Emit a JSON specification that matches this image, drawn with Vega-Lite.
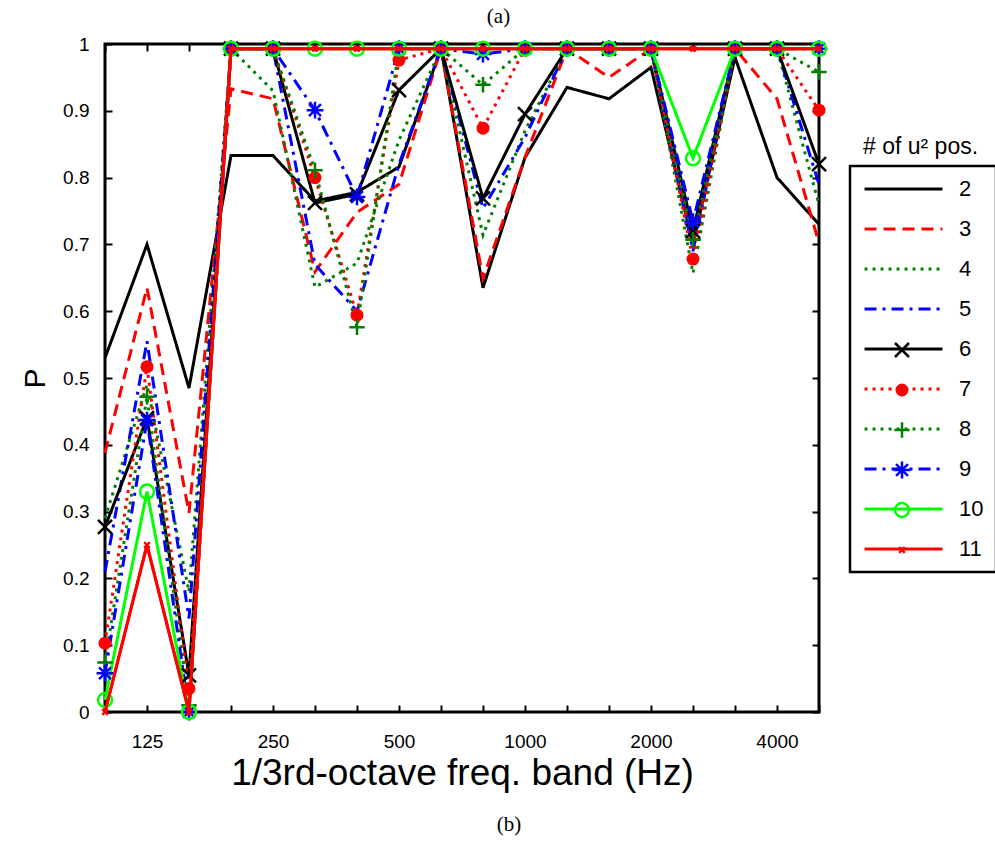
{
  "$schema": "https://vega.github.io/schema/vega-lite/v6.json",
  "width": 714,
  "height": 668,
  "padding": {"left": 20, "top": 5, "right": 2, "bottom": 4},
  "background": "white",
  "title": {"text": "(b)", "orient": "bottom", "anchor": "middle", "frame": "bounds", "font": "Liberation Serif", "fontSize": 21, "fontWeight": "normal", "color": "black", "offset": 23},
  "config": {
    "view": {"stroke": "black", "strokeWidth": 3},
    "axis": {"grid": false, "domain": false, "tickColor": "black", "tickWidth": 2, "labelColor": "black", "titleColor": "black", "labelFont": "Liberation Sans", "titleFont": "Liberation Sans", "titleFontWeight": "normal"}
  },
  "data": {"values": [
    {"f":"100","n":"2","P":0.53},{"f":"125","n":"2","P":0.70},{"f":"160","n":"2","P":0.485},{"f":"200","n":"2","P":0.833},{"f":"250","n":"2","P":0.833},{"f":"315","n":"2","P":0.765},{"f":"400","n":"2","P":0.778},{"f":"500","n":"2","P":0.816},{"f":"630","n":"2","P":0.993},{"f":"800","n":"2","P":0.635},{"f":"1000","n":"2","P":0.83},{"f":"1250","n":"2","P":0.935},{"f":"1600","n":"2","P":0.918},{"f":"2000","n":"2","P":0.965},{"f":"2500","n":"2","P":0.70},{"f":"3150","n":"2","P":0.98},{"f":"4000","n":"2","P":0.80},{"f":"5000","n":"2","P":0.73},
    {"f":"100","n":"3","P":0.388},{"f":"125","n":"3","P":0.635},{"f":"160","n":"3","P":0.298},{"f":"200","n":"3","P":0.933},{"f":"250","n":"3","P":0.918},{"f":"315","n":"3","P":0.659},{"f":"400","n":"3","P":0.748},{"f":"500","n":"3","P":0.79},{"f":"630","n":"3","P":0.993},{"f":"800","n":"3","P":0.649},{"f":"1000","n":"3","P":0.83},{"f":"1250","n":"3","P":0.993},{"f":"1600","n":"3","P":0.95},{"f":"2000","n":"3","P":0.993},{"f":"2500","n":"3","P":0.70},{"f":"3150","n":"3","P":0.993},{"f":"4000","n":"3","P":0.918},{"f":"5000","n":"3","P":0.702},
    {"f":"100","n":"4","P":0.29},{"f":"125","n":"4","P":0.49},{"f":"160","n":"4","P":0.18},{"f":"200","n":"4","P":0.993},{"f":"250","n":"4","P":0.93},{"f":"315","n":"4","P":0.636},{"f":"400","n":"4","P":0.672},{"f":"500","n":"4","P":0.856},{"f":"630","n":"4","P":0.993},{"f":"800","n":"4","P":0.714},{"f":"1000","n":"4","P":0.87},{"f":"1250","n":"4","P":0.993},{"f":"1600","n":"4","P":0.993},{"f":"2000","n":"4","P":0.993},{"f":"2500","n":"4","P":0.657},{"f":"3150","n":"4","P":0.993},{"f":"4000","n":"4","P":0.993},{"f":"5000","n":"4","P":0.759},
    {"f":"100","n":"5","P":0.21},{"f":"125","n":"5","P":0.555},{"f":"160","n":"5","P":0.14},{"f":"200","n":"5","P":0.993},{"f":"250","n":"5","P":0.993},{"f":"315","n":"5","P":0.67},{"f":"400","n":"5","P":0.60},{"f":"500","n":"5","P":0.82},{"f":"630","n":"5","P":0.993},{"f":"800","n":"5","P":0.754},{"f":"1000","n":"5","P":0.86},{"f":"1250","n":"5","P":0.993},{"f":"1600","n":"5","P":0.993},{"f":"2000","n":"5","P":0.993},{"f":"2500","n":"5","P":0.69},{"f":"3150","n":"5","P":0.993},{"f":"4000","n":"5","P":0.993},{"f":"5000","n":"5","P":0.79},
    {"f":"100","n":"6","P":0.277},{"f":"125","n":"6","P":0.44},{"f":"160","n":"6","P":0.055},{"f":"200","n":"6","P":0.993},{"f":"250","n":"6","P":0.993},{"f":"315","n":"6","P":0.762},{"f":"400","n":"6","P":0.775},{"f":"500","n":"6","P":0.931},{"f":"630","n":"6","P":0.993},{"f":"800","n":"6","P":0.769},{"f":"1000","n":"6","P":0.895},{"f":"1250","n":"6","P":0.993},{"f":"1600","n":"6","P":0.993},{"f":"2000","n":"6","P":0.993},{"f":"2500","n":"6","P":0.72},{"f":"3150","n":"6","P":0.993},{"f":"4000","n":"6","P":0.993},{"f":"5000","n":"6","P":0.82},
    {"f":"100","n":"7","P":0.103},{"f":"125","n":"7","P":0.517},{"f":"160","n":"7","P":0.035},{"f":"200","n":"7","P":0.993},{"f":"250","n":"7","P":0.993},{"f":"315","n":"7","P":0.80},{"f":"400","n":"7","P":0.594},{"f":"500","n":"7","P":0.976},{"f":"630","n":"7","P":0.993},{"f":"800","n":"7","P":0.874},{"f":"1000","n":"7","P":0.993},{"f":"1250","n":"7","P":0.993},{"f":"1600","n":"7","P":0.993},{"f":"2000","n":"7","P":0.993},{"f":"2500","n":"7","P":0.678},{"f":"3150","n":"7","P":0.993},{"f":"4000","n":"7","P":0.993},{"f":"5000","n":"7","P":0.901},
    {"f":"100","n":"8","P":0.074},{"f":"125","n":"8","P":0.472},{"f":"160","n":"8","P":0.01},{"f":"200","n":"8","P":0.993},{"f":"250","n":"8","P":0.993},{"f":"315","n":"8","P":0.811},{"f":"400","n":"8","P":0.576},{"f":"500","n":"8","P":0.993},{"f":"630","n":"8","P":0.993},{"f":"800","n":"8","P":0.939},{"f":"1000","n":"8","P":0.993},{"f":"1250","n":"8","P":0.993},{"f":"1600","n":"8","P":0.993},{"f":"2000","n":"8","P":0.993},{"f":"2500","n":"8","P":0.707},{"f":"3150","n":"8","P":0.993},{"f":"4000","n":"8","P":0.993},{"f":"5000","n":"8","P":0.958},
    {"f":"100","n":"9","P":0.058},{"f":"125","n":"9","P":0.437},{"f":"160","n":"9","P":0.0},{"f":"200","n":"9","P":0.993},{"f":"250","n":"9","P":0.993},{"f":"315","n":"9","P":0.901},{"f":"400","n":"9","P":0.771},{"f":"500","n":"9","P":0.993},{"f":"630","n":"9","P":0.993},{"f":"800","n":"9","P":0.985},{"f":"1000","n":"9","P":0.993},{"f":"1250","n":"9","P":0.993},{"f":"1600","n":"9","P":0.993},{"f":"2000","n":"9","P":0.993},{"f":"2500","n":"9","P":0.734},{"f":"3150","n":"9","P":0.993},{"f":"4000","n":"9","P":0.993},{"f":"5000","n":"9","P":0.993},
    {"f":"100","n":"10","P":0.018},{"f":"125","n":"10","P":0.33},{"f":"160","n":"10","P":0.0},{"f":"200","n":"10","P":0.993},{"f":"250","n":"10","P":0.993},{"f":"315","n":"10","P":0.993},{"f":"400","n":"10","P":0.993},{"f":"500","n":"10","P":0.993},{"f":"630","n":"10","P":0.993},{"f":"800","n":"10","P":0.993},{"f":"1000","n":"10","P":0.993},{"f":"1250","n":"10","P":0.993},{"f":"1600","n":"10","P":0.993},{"f":"2000","n":"10","P":0.993},{"f":"2500","n":"10","P":0.829},{"f":"3150","n":"10","P":0.993},{"f":"4000","n":"10","P":0.993},{"f":"5000","n":"10","P":0.993},
    {"f":"100","n":"11","P":0.0},{"f":"125","n":"11","P":0.25},{"f":"160","n":"11","P":0.0},{"f":"200","n":"11","P":0.993},{"f":"250","n":"11","P":0.993},{"f":"315","n":"11","P":0.993},{"f":"400","n":"11","P":0.993},{"f":"500","n":"11","P":0.993},{"f":"630","n":"11","P":0.993},{"f":"800","n":"11","P":0.993},{"f":"1000","n":"11","P":0.993},{"f":"1250","n":"11","P":0.993},{"f":"1600","n":"11","P":0.993},{"f":"2000","n":"11","P":0.993},{"f":"2500","n":"11","P":0.993},{"f":"3150","n":"11","P":0.993},{"f":"4000","n":"11","P":0.993},{"f":"5000","n":"11","P":0.993}
  ]},
  "layer": [
    {
      "mark": {"type": "line", "strokeWidth": 3, "strokeCap": "butt", "strokeJoin": "miter"},
      "encoding": {
        "x": {"field": "f", "type": "ordinal",
          "scale": {"type": "point", "padding": 0, "domain": ["100","125","160","200","250","315","400","500","630","800","1000","1250","1600","2000","2500","3150","4000","5000"]},
          "axis": {"orient": "bottom", "values": ["100","125","160","200","250","315","400","500","630","800","1000","1250","1600","2000","2500","3150","4000","5000"],
            "labelExpr": "indexof(['125','250','500','1000','2000','4000'], datum.value) >= 0 ? datum.value : ''",
            "labelAngle": 0, "labelOverlap": false, "labelFontSize": 19, "tickSize": -7, "labelPadding": 27,
            "title": "1/3rd-octave freq. band (Hz)", "titleFontSize": 37, "titlePadding": 4}},
        "y": {"field": "P", "type": "quantitative",
          "scale": {"domain": [0, 1], "nice": false},
          "axis": {"orient": "left", "values": [0,0.1,0.2,0.3,0.4,0.5,0.6,0.7,0.8,0.9,1], "format": "~g",
            "labelFontSize": 19, "tickSize": -7, "labelPadding": 23,
            "title": "P", "titleFontSize": 30, "titlePadding": 12}},
        "color": {"field": "n", "type": "nominal",
          "scale": {"domain": ["2","3","4","5","6","7","8","9","10","11"], "range": ["#000000","#ff0000","#008000","#0000ff","#000000","#ff0000","#008000","#0000ff","#00ff00","#ff0000"]},
          "legend": {"orient": "none", "legendX": 745, "legendY": 122, "title": null, "strokeColor": "black", "fillColor": "white", "padding": 12,
            "symbolType": "M-5,0L5,0", "symbolSize": 243, "symbolStrokeWidth": 3, "symbolOffset": 30.5,
            "labelFont": "Liberation Sans", "labelFontSize": 22, "labelColor": "black", "labelOffset": 44.5, "rowPadding": 18, "clipHeight": 22,
            "encode": {"legend": {"update": {"strokeWidth": {"value": 2.5}}}}}},
        "strokeDash": {"field": "n", "type": "nominal",
          "scale": {"domain": ["2","3","4","5","6","7","8","9","10","11"], "range": [[1,0],[12,7],[3,5],[12,6,3,6],[1,0],[3,5],[3,5],[12,6,3,6],[1,0],[1,0]]},
          "legend": {"orient": "none", "legendX": 745, "legendY": 122, "title": null, "strokeColor": "black", "fillColor": "white", "padding": 12,
            "symbolType": "M-5,0L5,0", "symbolSize": 243, "symbolStrokeWidth": 3, "symbolOffset": 30.5,
            "labelFont": "Liberation Sans", "labelFontSize": 22, "labelColor": "black", "labelOffset": 44.5, "rowPadding": 18, "clipHeight": 22,
            "encode": {"legend": {"update": {"strokeWidth": {"value": 2.5}}}}}}
      }
    },
    {
      "transform": [{"filter": "toNumber(datum.n) >= 6"}],
      "mark": {"type": "point", "size": 196, "strokeWidth": 2.5, "opacity": 1},
      "encoding": {
        "x": {"field": "f", "type": "ordinal",
          "axis": {"orient": "top", "values": ["100","125","160","200","250","315","400","500","630","800","1000","1250","1600","2000","2500","3150","4000","5000"],
            "labels": false, "tickSize": -7, "title": "(a)", "titleFont": "Liberation Serif", "titleFontSize": 21, "titleX": 393, "titleY": -22, "titleBaseline": "alphabetic"}},
        "y": {"field": "P", "type": "quantitative",
          "axis": {"orient": "right", "values": [0,0.1,0.2,0.3,0.4,0.5,0.6,0.7,0.8,0.9,1], "labels": false, "tickSize": -7, "title": null}},
        "stroke": {"field": "n", "type": "nominal",
          "scale": {"domain": ["6","7","8","9","10","11"], "range": ["#000000","#ff0000","#008000","#0000ff","#00ff00","#ff0000"]},
          "legend": {"orient": "none", "legendX": 758, "legendY": 92, "title": "# of u² pos.", "titleFont": "Liberation Sans", "titleFontSize": 23, "titleFontWeight": "normal", "titleColor": "black", "titleAnchor": "start", "titlePadding": 180,
            "padding": 0, "symbolSize": 196, "symbolStrokeWidth": 2.5, "symbolOffset": 29.5,
            "labelFont": "Liberation Sans", "labelFontSize": 19, "labelColor": "transparent", "labelOffset": 4, "rowPadding": 18, "clipHeight": 22}},
        "fill": {"field": "n", "type": "nominal",
          "scale": {"domain": ["6","7","8","9","10","11"], "range": ["transparent","#ff0000","transparent","transparent","transparent","transparent"]},
          "legend": {"orient": "none", "legendX": 758, "legendY": 92, "title": "# of u² pos.", "titleFont": "Liberation Sans", "titleFontSize": 23, "titleFontWeight": "normal", "titleColor": "black", "titleAnchor": "start", "titlePadding": 180,
            "padding": 0, "symbolSize": 196, "symbolStrokeWidth": 2.5, "symbolOffset": 29.5,
            "labelFont": "Liberation Sans", "labelFontSize": 19, "labelColor": "transparent", "labelOffset": 4, "rowPadding": 18, "clipHeight": 22}},
        "shape": {"field": "n", "type": "nominal",
          "scale": {"domain": ["6","7","8","9","10","11"], "range": ["M-1,-1L1,1M-1,1L1,-1", "M-0.75,0A0.75,0.75,0,1,0,0.75,0A0.75,0.75,0,1,0,-0.75,0Z", "M-1.1,0L1.1,0M0,-1.1L0,1.1", "M-1.2,0L1.2,0M0,-1.2L0,1.2M-0.85,-0.85L0.85,0.85M-0.85,0.85L0.85,-0.85", "circle", "M-0.4,-0.4L0.4,0.4M-0.4,0.4L0.4,-0.4"]},
          "legend": {"orient": "none", "legendX": 758, "legendY": 92, "title": "# of u² pos.", "titleFont": "Liberation Sans", "titleFontSize": 23, "titleFontWeight": "normal", "titleColor": "black", "titleAnchor": "start", "titlePadding": 180,
            "padding": 0, "symbolSize": 196, "symbolStrokeWidth": 2.5, "symbolOffset": 29.5,
            "labelFont": "Liberation Sans", "labelFontSize": 19, "labelColor": "transparent", "labelOffset": 4, "rowPadding": 18, "clipHeight": 22}}
      }
    },
    {
      "transform": [{"filter": "datum.n == '11'"}],
      "mark": {"type": "line", "strokeWidth": 3, "color": "#ff0000"},
      "encoding": {
        "x": {"field": "f", "type": "ordinal", "axis": null},
        "y": {"field": "P", "type": "quantitative", "axis": null}
      }
    }
  ]
}
